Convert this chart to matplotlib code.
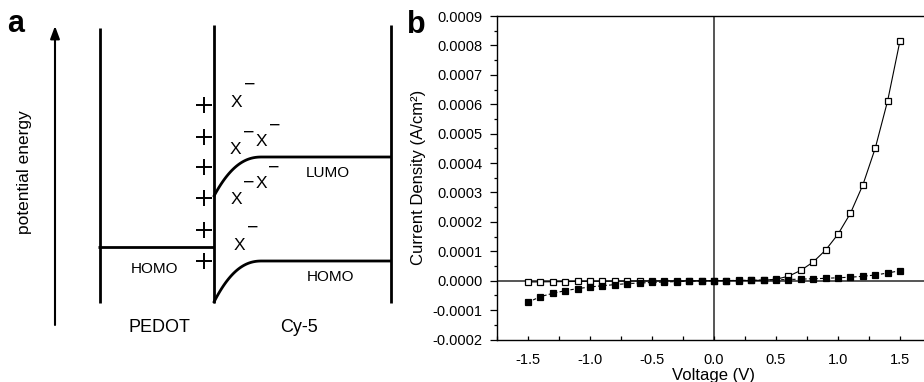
import numpy as np
import matplotlib
matplotlib.use("Agg")
import matplotlib.pyplot as plt
from matplotlib.ticker import MultipleLocator

plt.rcParams['font.family'] = ['Liberation Sans', 'DejaVu Sans']
plt.rcParams['axes.unicode_minus'] = False

# ---------------- data (panel b) ----------------
voltage = [-1.5, -1.4, -1.3, -1.2, -1.1, -1.0, -0.9, -0.8, -0.7, -0.6, -0.5,
           -0.4, -0.3, -0.2, -0.1, 0.0, 0.1, 0.2, 0.3, 0.4, 0.5, 0.6, 0.7,
           0.8, 0.9, 1.0, 1.1, 1.2, 1.3, 1.4, 1.5]
current_open = [-0.0000045, -0.000004, -0.0000035, -0.000003, -0.0000025,
                -0.000002, -0.0000018, -0.0000015, -0.0000012, -0.000001,
                -0.0000008, -0.0000006, -0.0000004, -0.0000002, -0.0000001,
                0.0, 0.0000002, 0.0000004, 0.0000008, 0.0000015, 0.000005,
                0.000015, 0.000035, 0.0000635, 0.000104, 0.000158, 0.000229,
                0.000325, 0.000450, 0.000611, 0.000816]
current_filled = [-0.0000735, -0.0000543, -0.000043, -0.000034, -0.000027,
                  -0.0000215, -0.000017, -0.0000135, -0.000010, -0.000008,
                  -0.000006, -0.0000045, -0.000003, -0.000002, -0.000001,
                  0.0, 0.0000005, 0.000001, 0.0000015, 0.000002, 0.000003,
                  0.000004, 0.0000053, 0.0000065, 0.000008, 0.00001,
                  0.0000118, 0.000015, 0.0000193, 0.000026, 0.000034]
xtick_values = [-1.5, -1.0, -0.5, 0.0, 0.5, 1.0, 1.5]
xtick_labels = ['-1.5', '-1.0', '-0.5', '0.0', '0.5', '1.0', '1.5']
ytick_values = [-0.0002, -0.0001, 0.0, 0.0001, 0.0002, 0.0003, 0.0004,
                0.0005, 0.0006, 0.0007, 0.0008, 0.0009]
ytick_labels = ['-0.0002', '-0.0001', '0.0000', '0.0001', '0.0002', '0.0003',
                '0.0004', '0.0005', '0.0006', '0.0007', '0.0008', '0.0009']

# ---------------- schematic labels (panel a) ----------------
layer_names = ['PEDOT', 'Cy-5']
level_names = ['HOMO', 'LUMO', 'HOMO']
axis_title_a = 'potential energy'

W, H = 924, 382
fig = plt.figure(figsize=(W / 100, H / 100), dpi=100)

# ---------- panel a: schematic in pixel coordinates ----------
ax_a = fig.add_axes([0, 0, 1, 1])
ax_a.set_xlim(0, W)
ax_a.set_ylim(H, 0)
ax_a.axis('off')

lw = 2.0
k = 'black'
# energy arrow
ax_a.annotate('', xy=(55, 26), xytext=(55, 325),
              arrowprops=dict(arrowstyle='-|>,head_length=0.75,head_width=0.28',
                              color=k, lw=1.5, shrinkA=0, shrinkB=0))
# vertical boundaries
ax_a.plot([100, 100], [28, 303], color=k, lw=lw, solid_capstyle='butt')
ax_a.plot([213.5, 213.5], [25, 303], color=k, lw=lw, solid_capstyle='butt')
ax_a.plot([391, 391], [25, 303], color=k, lw=lw, solid_capstyle='butt')
# PEDOT HOMO
ax_a.plot([98, 213.5], [247, 247], color=k, lw=lw, solid_capstyle='butt')

# Cy-5 bent bands
def band(y_start, y_end):
    x0, wdt = 213.5, 48.5
    dx = np.linspace(0, wdt, 60)
    f = (1 - dx / wdt) ** 2.3
    xs = np.concatenate([x0 + dx, [391]])
    ys = np.concatenate([y_end + (y_start - y_end) * f, [y_end]])
    ax_a.plot(xs, ys, color=k, lw=lw, solid_capstyle='butt')

band(197, 157)   # LUMO
band(303, 261)   # HOMO

# plus charges
plus_y = [105, 136.5, 167, 198, 229.5, 260.5]
ax_a.plot([204] * len(plus_y), plus_y, linestyle='none', marker='+',
          markersize=11.5, mew=1.4, color=k)

# anions X^-
x_pos = [(236.7, 102.3), (235.7, 150), (261.7, 141.7), (236, 200), (261, 183.3), (239, 246)]
m_pos = [(250, 85), (248.3, 132.7), (274.3, 126), (248.3, 182.7), (274, 168.3), (252.3, 228.3)]
for (x, y) in x_pos:
    ax_a.text(x, y, 'X', ha='center', va='center', fontsize=12.5)
for (x, y) in m_pos:
    ax_a.text(x, y, '\u2212', ha='center', va='center', fontsize=14)

ax_a.text(155, 269, level_names[0], ha='center', va='center', fontsize=11)
ax_a.text(328, 173, level_names[1], ha='center', va='center', fontsize=11)
ax_a.text(330, 277, level_names[2], ha='center', va='center', fontsize=11)
ax_a.text(159, 328, layer_names[0], ha='center', va='center', fontsize=13)
ax_a.text(299, 328, layer_names[1], ha='center', va='center', fontsize=13)
ax_a.text(25, 172, axis_title_a, ha='center', va='center', rotation=90, fontsize=12.5)

ax_a.text(16, 32, 'a', ha='center', va='baseline', fontsize=22, fontweight='bold')
ax_a.text(416, 33, 'b', ha='center', va='baseline', fontsize=22, fontweight='bold')

# ---------- panel b: J-V curves ----------
left_px, right_px, top_px, bot_px = 497, 931, 16, 339.5
ax_b = fig.add_axes([left_px / W, 1 - bot_px / H,
                     (right_px - left_px) / W, (bot_px - top_px) / H])
ax_b.set_xlim(-1.75, 1.75)
ax_b.set_ylim(-0.0002, 0.0009)

ax_b.axhline(0, color='#484848', lw=1.3, zorder=1)
ax_b.axvline(0, color='#484848', lw=1.3, zorder=1)

ax_b.plot(voltage, current_open, color='black', lw=0.8, marker='s',
          markersize=4.7, markerfacecolor='white', markeredgecolor='black',
          mew=0.9, zorder=3)
ax_b.plot(voltage, current_filled, color='black', lw=0.8, linestyle=(0, (3, 2)),
          marker='s', markersize=4.7, markerfacecolor='black',
          markeredgecolor='black', mew=0.9, zorder=4)

ax_b.set_xticks(xtick_values, xtick_labels)
ax_b.xaxis.set_minor_locator(MultipleLocator(0.25))
ax_b.set_yticks(ytick_values, ytick_labels)
ax_b.yaxis.set_minor_locator(MultipleLocator(0.00005))

ax_b.tick_params(axis='x', which='both', direction='in', length=3, width=0.9,
                 labelsize=10.5, pad=9.5, top=False)
ax_b.tick_params(axis='y', which='major', direction='out', length=4.7, width=0.9,
                 labelsize=10.5, pad=5.5, right=False)
ax_b.tick_params(axis='y', which='minor', direction='out', length=2.4, width=0.9,
                 right=False)

for s in ['left', 'bottom', 'top']:
    ax_b.spines[s].set_linewidth(1.0)
    ax_b.spines[s].set_color('black')
ax_b.spines['right'].set_visible(False)

ax_b.set_xlabel('Voltage (V)', fontsize=12)
ax_b.set_ylabel('Current Density (A/cm\u00b2)', fontsize=12)
ax_b.xaxis.set_label_coords(0.5, -0.088)
ax_b.yaxis.set_label_coords(-0.163, 0.5)

fig.savefig('out.png', dpi=100)
